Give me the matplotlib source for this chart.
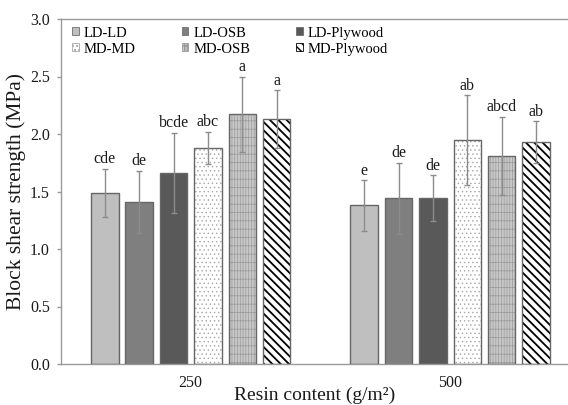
import numpy as np
import matplotlib
matplotlib.use("Agg")
import matplotlib.pyplot as plt
from matplotlib.patches import Patch

# data
groups = ["250", "500"]
series = ["LD-LD", "LD-OSB", "LD-Plywood", "MD-MD", "MD-OSB", "MD-Plywood"]
means_250 = [1.49, 1.41, 1.66, 1.88, 2.17, 2.13]
err_250 = [0.21, 0.27, 0.35, 0.14, 0.33, 0.25]
means_500 = [1.38, 1.44, 1.44, 1.95, 1.81, 1.93]
err_500 = [0.22, 0.31, 0.20, 0.39, 0.34, 0.18]
letters_250 = ["cde", "de", "bcde", "abc", "a", "a"]
letters_500 = ["e", "de", "de", "ab", "abcd", "ab"]
y_ticks = [0.0, 0.5, 1.0, 1.5, 2.0, 2.5, 3.0]

# per-series look: face, hatch, hatch colour, hatch width
styles = [
    ("#bfbfbf", "", "#6e6e6e", 0.5),
    ("#7f7f7f", "", "#6e6e6e", 0.5),
    ("#595959", "", "#6e6e6e", 0.5),
    ("#ffffff", "....", "#a6a6a6", 0.5),
    ("#c8c8c8", "||||||--", "#9a9a9a", 0.5),
    ("#ffffff", "\\\\\\\\", "#000000", 1.3),
]

plt.rcParams["font.family"] = ["Liberation Serif", "DejaVu Serif"]

fig = plt.figure(figsize=(5.68, 4.05), dpi=100)
ax = fig.add_axes([61 / 568, 1 - 364 / 405, 1 - 61 / 568, 345 / 405])

x = np.arange(len(groups))
pitch = 0.1325
width = 0.106
means = np.array([means_250, means_500]).T
errs = np.array([err_250, err_500]).T
letters = np.array([letters_250, letters_500]).T

handles = []
for i, name in enumerate(series):
    face, hatch, hcol, hlw = styles[i]
    xs = x + (i - 2.5) * pitch
    with plt.rc_context({"hatch.linewidth": hlw}):
        bars = ax.bar(xs, means[i], width, color=face, edgecolor=hcol if hatch else face,
                      hatch=hatch or None, linewidth=0, zorder=2)
        for b in bars:
            if hasattr(b, "set_hatch_linewidth"):
                b.set_hatch_linewidth(hlw)
        ax.bar(xs, means[i], width, fill=False, edgecolor="#666666", linewidth=1.0, zorder=3)
        h = Patch(facecolor=face, edgecolor=hcol if hatch else "#6e6e6e", hatch=hatch or None,
                  linewidth=0.6)
        if hasattr(h, "set_hatch_linewidth"):
            h.set_hatch_linewidth(hlw)
    handles.append(h)
    ax.errorbar(xs, means[i], yerr=errs[i], fmt="none", ecolor="#8c8c8c",
                elinewidth=1.0, capsize=2, capthick=1.0, zorder=4)
    for xi, m, e, t in zip(xs, means[i], errs[i], letters[i]):
        ax.annotate(t, (xi, m + e), xytext=(0, 1.0), textcoords="offset points",
                    ha="center", va="bottom", fontsize=11.5, color="#1a1a1a")

ax.set_xlim(-0.5, (568 - 191.3) / 259)
ax.set_ylim(0, 3.0)
ax.set_xticks(x)
ax.set_xticklabels(groups)
ax.set_yticks(y_ticks)
ax.set_yticklabels([f"{v:.1f}" for v in y_ticks])
ax.tick_params(axis="x", length=0, pad=8, labelsize=11.5, labelcolor="#1a1a1a")
ax.tick_params(axis="y", direction="out", length=3, width=1, color="#9a9a9a",
               pad=5, labelsize=11.5, labelcolor="#1a1a1a")

for s in ["left", "bottom", "top"]:
    ax.spines[s].set_color("#9a9a9a")
    ax.spines[s].set_linewidth(1.0)
ax.spines["right"].set_visible(False)

ax.set_xlabel("Resin content (g/m²)", fontsize=14, labelpad=-3, color="#1a1a1a")
ax.set_ylabel("Block shear strength (MPa)", fontsize=15.5, labelpad=3, color="#1a1a1a")

# legend fills column by column, so reorder to get the reference's row layout
order = [0, 3, 1, 4, 2, 5]
ax.legend([handles[k] for k in order], [series[k] for k in order], ncol=3,
          loc="upper left", bbox_to_anchor=(0.022, 0.978),
          frameon=False, fontsize=10.5, handlelength=0.45, handleheight=0.45,
          handletextpad=0.35, columnspacing=3.15, labelspacing=0.2, borderpad=0,
          borderaxespad=0)

fig.savefig("out.png", dpi=100)
